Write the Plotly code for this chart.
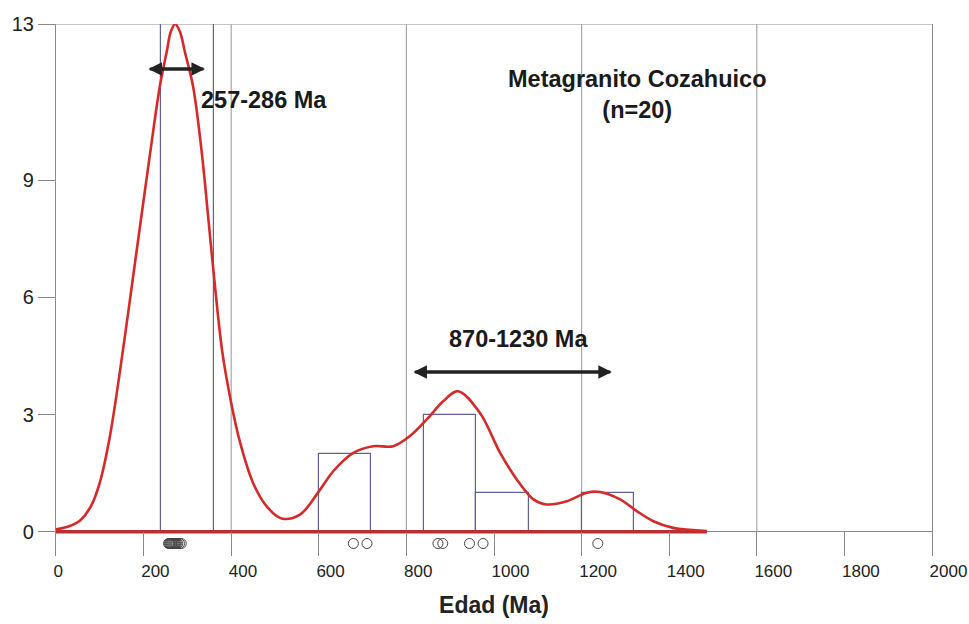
import plotly.graph_objects as go

# ---------------- data ----------------
x_tick_vals = [0, 200, 400, 600, 800, 1000, 1200, 1400, 1600, 1800, 2000]
x_tick_text = ["0", "200", "400", "600", "800", "1000", "1200", "1400", "1600", "1800", "2000"]
y_tick_vals = [0, 3, 6, 9, 13]
y_tick_text = ["0", "3", "6", "9", "13"]
grid_x = [400, 800, 1200, 1600]

# histogram bins (Ma) and counts
bin_left = [240, 600, 840, 960, 1200]
bin_counts = [13, 2, 3, 1, 1]
bin_width = 120

# individual zircon ages (Ma), shown as open circles below the axis
ages = [257, 259, 261, 263, 265, 267, 269, 271, 273, 275, 278, 282, 286,
        679, 710, 872, 883, 944, 975, 1237]
age_row_y = -0.3

# probability density curve
curve_x = [0, 30, 55, 80, 100, 123, 152, 173, 194, 215, 237, 253, 262, 272, 283, 295, 313, 333,
           348, 363, 380, 400, 420, 450, 481, 515, 557, 603, 633, 679, 724,
           770, 808, 846, 884, 918, 968, 1014, 1052, 1090, 1120, 1166, 1212,
           1242, 1288, 1326, 1364, 1409, 1486]
curve_y = [0.06, 0.14, 0.29, 0.66, 1.26, 2.44, 4.58, 6.28, 8.0, 9.7, 11.4, 12.3, 12.8, 13.0, 12.8,
           12.25, 11.4, 9.69, 8.0, 6.28, 4.58, 3.3, 2.3, 1.25, 0.65, 0.34,
           0.44, 1.08, 1.55, 2.02, 2.19, 2.19, 2.45, 2.87, 3.34, 3.6, 3.04,
           2.02, 1.34, 0.83, 0.70, 0.78, 1.0, 1.02, 0.83, 0.53, 0.27, 0.1, 0.02]

baseline_x = [0, 1486]
baseline_y = [0, 0]

range1 = [211, 340]
range1_y = 11.85
range2 = [816, 1269]
range2_y = 4.09

# ---------------- figure ----------------
AX = "#8a8a8a"
TXT = "#1a1a1a"
FONT = "Liberation Sans, Arial, sans-serif"

fig = go.Figure()

fig.add_trace(go.Bar(
    x=[b + bin_width / 2 for b in bin_left],
    y=bin_counts,
    width=[bin_width] * len(bin_left),
    marker=dict(color="rgba(0,0,0,0)", line=dict(color="#5d6198", width=1.2)),
    hoverinfo="skip",
    showlegend=False,
))

fig.add_trace(go.Scatter(
    x=baseline_x, y=baseline_y, mode="lines",
    line=dict(color="#b5302e", width=3.5),
    hoverinfo="skip", showlegend=False, cliponaxis=False,
))

fig.add_trace(go.Scatter(
    x=curve_x, y=curve_y, mode="lines",
    line=dict(color="#d42a2a", width=2.6, shape="spline", smoothing=1.0),
    showlegend=False, cliponaxis=False,
))

fig.add_trace(go.Scatter(
    x=ages, y=[age_row_y] * len(ages), mode="markers",
    marker=dict(symbol="circle-open", size=10, color="#444444", line=dict(width=1)),
    showlegend=False,
))

for gx in grid_x:
    fig.add_shape(type="line", xref="x", yref="y", x0=gx, x1=gx, y0=0, y1=13,
                  line=dict(color="#a8a8a8", width=1.2), layer="below")
# top frame line
fig.add_shape(type="line", xref="paper", yref="y", x0=0, x1=1, y0=13, y1=13,
              line=dict(color=AX, width=1.2), layer="below")

# double-headed arrows (two overlapping single-headed arrows)
for (r, ry) in [(range1, range1_y), (range2, range2_y)]:
    for end, start in [(r[0], r[1]), (r[1], r[0])]:
        fig.add_annotation(x=end, y=ry, ax=start, ay=ry, xref="x", yref="y",
                           axref="x", ayref="y", text="", showarrow=True,
                           arrowhead=2, arrowsize=0.9, arrowwidth=3,
                           arrowcolor="#222222")

fig.add_annotation(x=327, y=11.05, xref="x", yref="y", text="<b>257-286 Ma</b>",
                   showarrow=False, xanchor="left", yanchor="middle",
                   font=dict(family=FONT, size=23.5, color=TXT))
fig.add_annotation(x=1056, y=4.94, xref="x", yref="y", text="<b>870-1230 Ma</b>",
                   showarrow=False, xanchor="center", yanchor="middle",
                   font=dict(family=FONT, size=23.5, color=TXT))
fig.add_annotation(x=1328, y=11.19, xref="x", yref="y",
                   text="<b>Metagranito Cozahuico</b><br><b>(n=20)</b>",
                   showarrow=False, xanchor="center", yanchor="middle", align="center",
                   font=dict(family=FONT, size=23.5, color=TXT))

fig.update_layout(
    width=969, height=624,
    margin=dict(l=56, r=37, t=24, b=68),
    paper_bgcolor="white", plot_bgcolor="white",
    bargap=0,
    xaxis=dict(
        range=[0, 2000], tickvals=x_tick_vals, ticktext=x_tick_text,
        showgrid=False, zeroline=False, showline=False, automargin=False,
        ticks="inside", ticklen=24, tickcolor=AX, tickwidth=1.2,
        ticklabelposition="outside right", ticklabeloverflow="allow",
        ticklabelstandoff=3, ticklabelshift=-3,
        tickfont=dict(family=FONT, size=17, color="#222222"),
        title=dict(text="<b>Edad (Ma)</b>", standoff=16,
                   font=dict(family=FONT, size=23, color="#222222")),
    ),
    yaxis=dict(
        range=[-0.62, 13], tickvals=y_tick_vals, ticktext=y_tick_text,
        showgrid=False, zeroline=True, zerolinecolor=AX, zerolinewidth=1.2,
        showline=True, linecolor=AX, linewidth=1.2, mirror=True, automargin=False,
        ticks="outside", ticklen=17, tickcolor=AX, tickwidth=1.2,
        tickfont=dict(family=FONT, size=20, color="#222222"),
    ),
)

fig.write_html("out.html")
